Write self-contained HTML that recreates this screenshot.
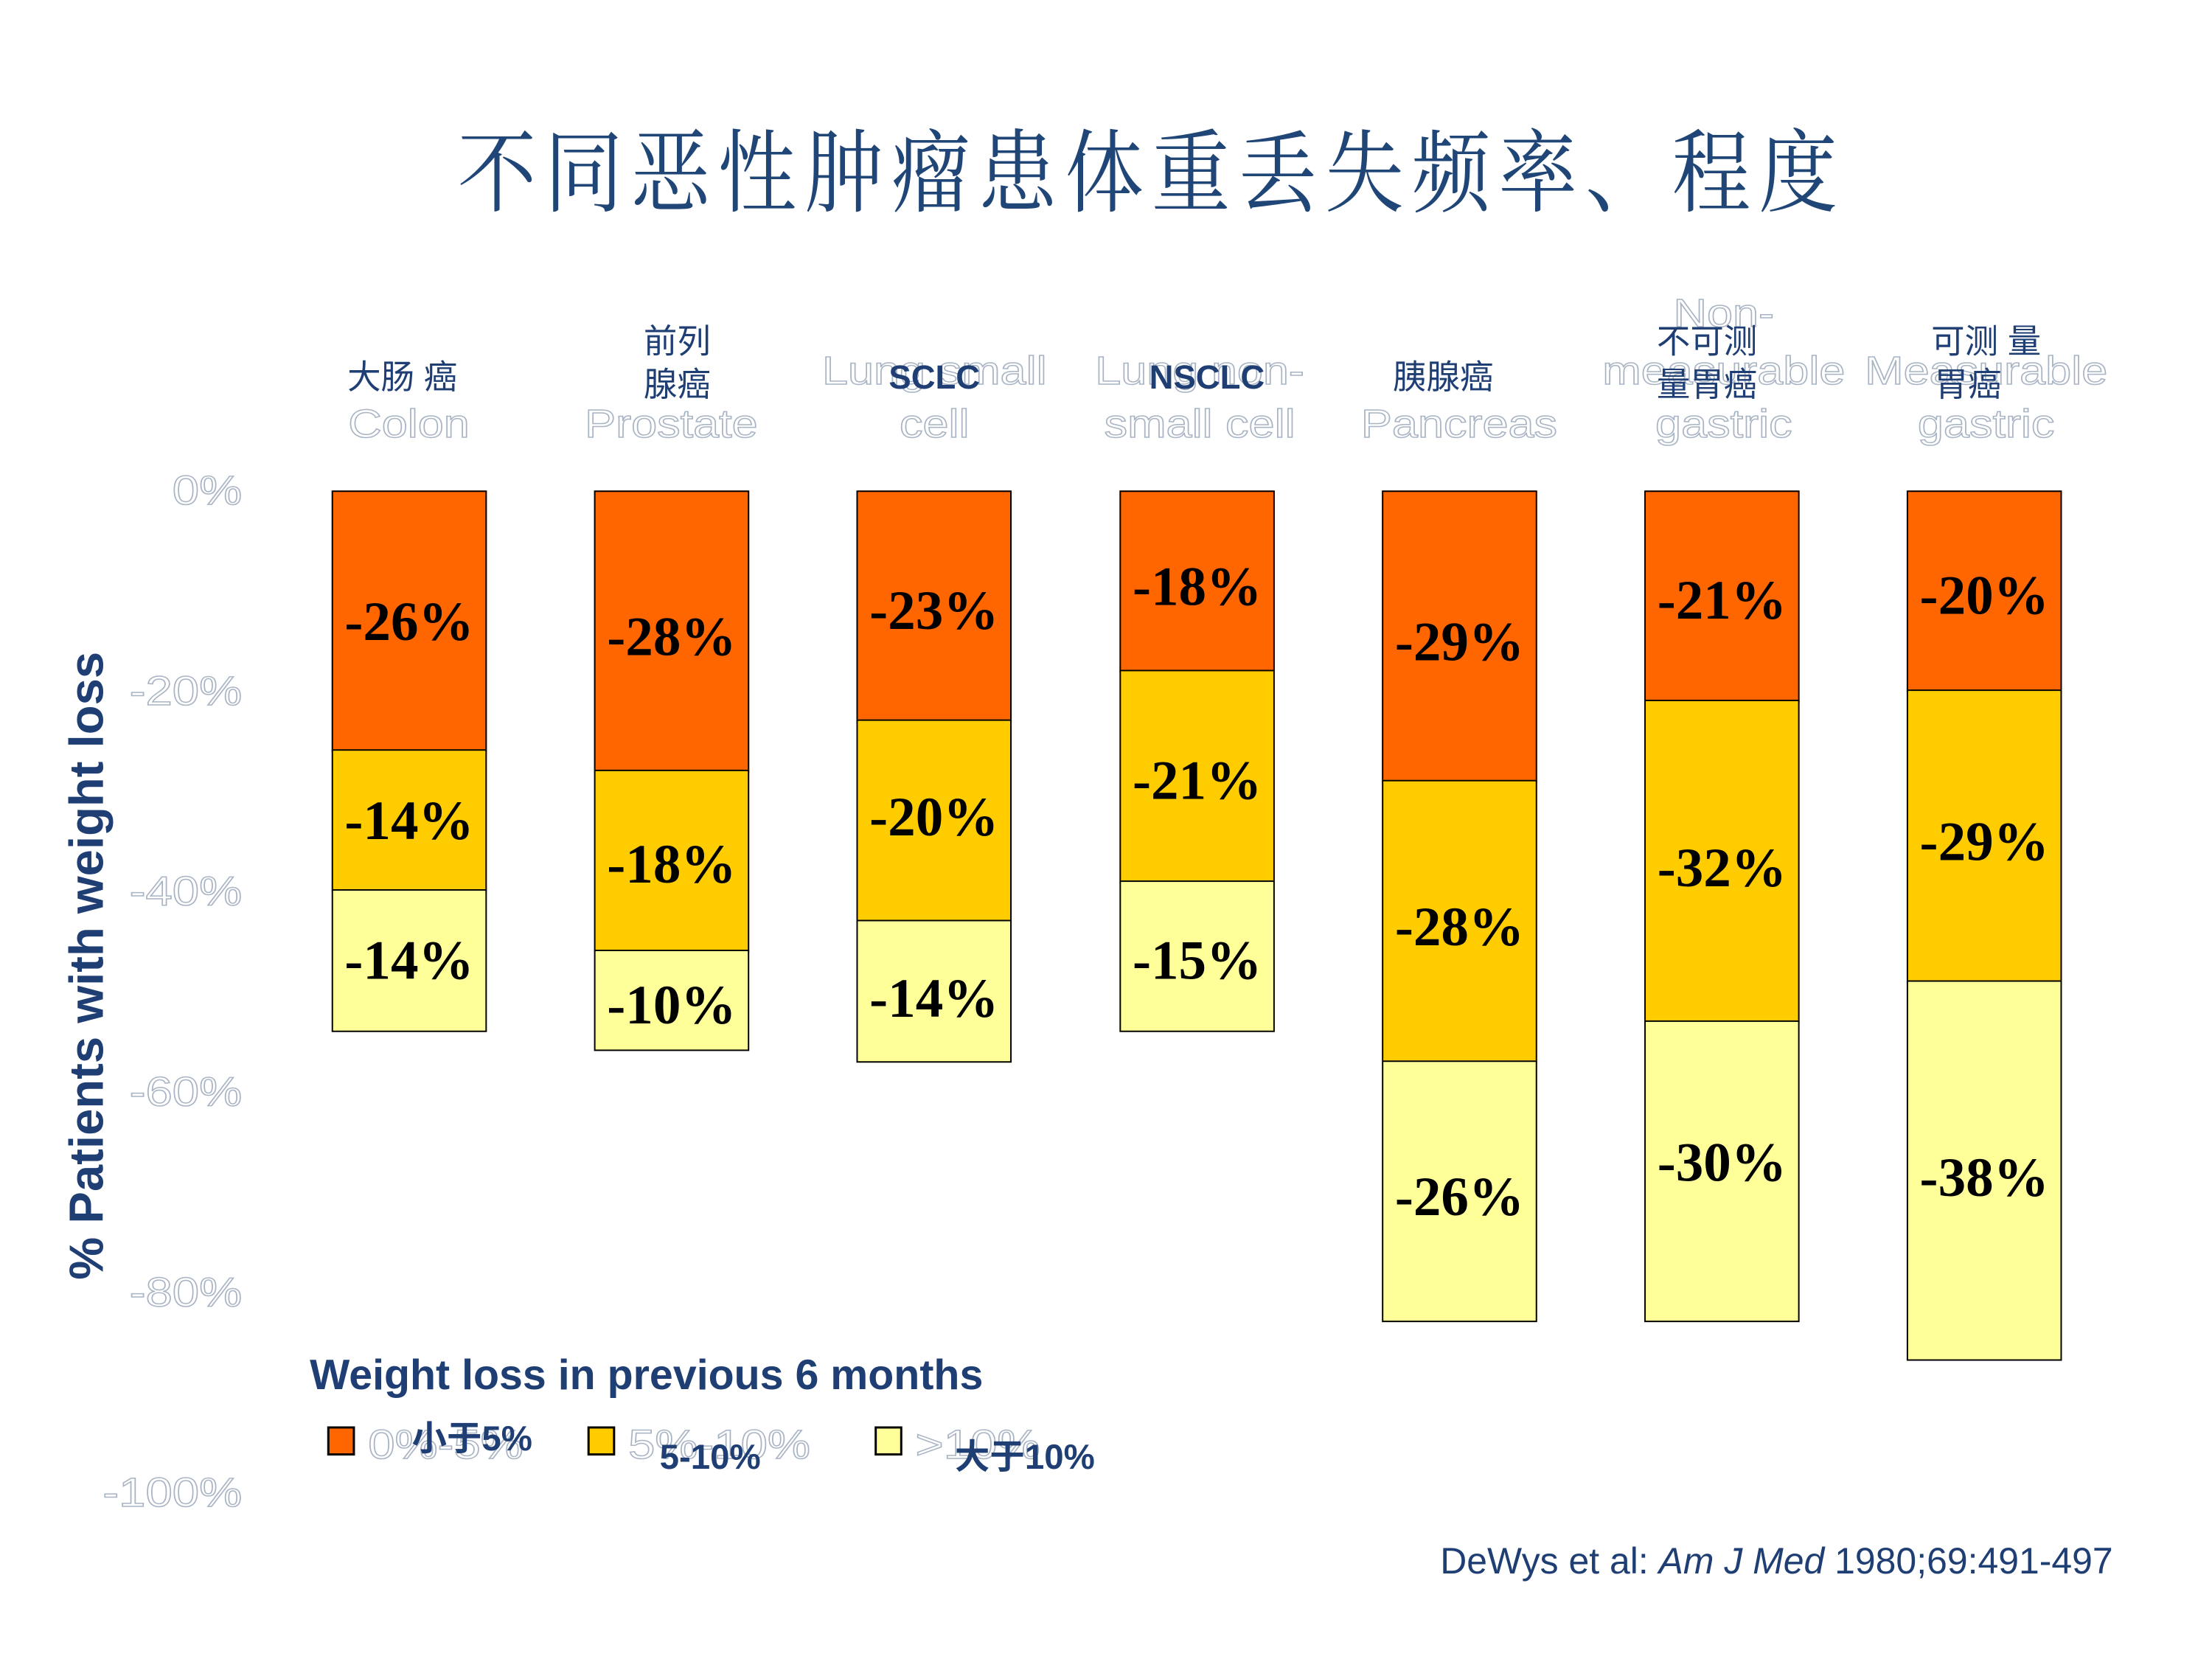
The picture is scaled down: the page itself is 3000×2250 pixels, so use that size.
<!DOCTYPE html>
<html><head><meta charset="utf-8"><style>
html,body{margin:0;padding:0;background:#fff;}
#w{position:relative;width:3000px;height:2250px;overflow:hidden;background:#fff;}
#c{position:absolute;left:0;top:0;width:3035px;height:2276px;transform:scale(0.9885);transform-origin:0 0;font-family:"Liberation Sans","Noto Sans CJK SC",sans-serif;}
.a{position:absolute;white-space:nowrap;transform:translate(-50%,-50%);line-height:1;}
.o{color:#fff;-webkit-text-stroke:1.5px #a8b4c4;font-size:54px;transform:translate(-50%,-50%) scaleX(1.18);}
.cn{color:#1f3f74;font-size:46px;font-family:"Liberation Sans","Noto Sans CJK SC",sans-serif;}
.b{font-weight:bold;color:#1f3f74;font-size:46px;}
.t{color:#fff;-webkit-text-stroke:1.5px #a8b4c4;font-size:56px;transform:translate(-100%,-50%) scaleX(1.18);transform-origin:100% 50%;}
.lo{transform:translate(0,-50%) scaleX(1.18);transform-origin:0 50%;}
.bar{position:absolute;box-sizing:border-box;border:2px solid #000;}
.v{position:absolute;left:0;right:0;text-align:center;font-family:"Liberation Serif",serif;font-weight:bold;font-size:76px;color:#000;transform:translateY(-50%);line-height:1;}
</style></head><body><div id="w"><div id="c">
<div class="a" style="left:1580px;top:228px;transform:translate(-50%,-50%) scaleY(1.15);font-family:'Noto Serif CJK SC',serif;font-size:108px;letter-spacing:11px;color:#1f4677;">不同恶性肿瘤患体重丢失频率、程度</div>

<div class="a t" style="left:332px;top:673px;">0%</div>
<div class="a t" style="left:332px;top:948px;">-20%</div>
<div class="a t" style="left:332px;top:1223px;">-40%</div>
<div class="a t" style="left:332px;top:1498px;">-60%</div>
<div class="a t" style="left:332px;top:1773px;">-80%</div>
<div class="a t" style="left:332px;top:2048px;">-100%</div>

<div class="a" style="left:118px;top:1325px;transform:translate(-50%,-50%) rotate(-90deg);font-weight:bold;font-size:66px;color:#1f3f74;">% Patients with weight loss</div>

<div class="a cn" style="left:552px;top:517px;">大肠 癌</div>
<div class="a o" style="left:561px;top:582px;">Colon</div>
<div class="a cn" style="left:929px;top:468px;">前列</div>
<div class="a cn" style="left:929px;top:527px;">腺癌</div>
<div class="a o" style="left:921px;top:582px;">Prostate</div>
<div class="a o" style="left:1282px;top:509px;">Lung small</div>
<div class="a o" style="left:1282px;top:582px;">cell</div>
<div class="a b" style="left:1282px;top:517px;">SCLC</div>
<div class="a o" style="left:1646px;top:509px;">Lung non-</div>
<div class="a o" style="left:1646px;top:582px;">small cell</div>
<div class="a b" style="left:1656px;top:517px;">NSCLC</div>
<div class="a cn" style="left:1980px;top:517px;">胰腺癌</div>
<div class="a o" style="left:2002px;top:582px;">Pancreas</div>
<div class="a o" style="left:2365px;top:430px;">Non-</div>
<div class="a o" style="left:2365px;top:509px;">measurable</div>
<div class="a o" style="left:2365px;top:582px;">gastric</div>
<div class="a cn" style="left:2342px;top:468px;">不可测</div>
<div class="a cn" style="left:2342px;top:527px;">量胃癌</div>
<div class="a o" style="left:2725px;top:509px;">Measurable</div>
<div class="a o" style="left:2725px;top:582px;">gastric</div>
<div class="a cn" style="left:2725px;top:468px;">可测 量</div>
<div class="a cn" style="left:2700px;top:527px;">胃癌</div>

<div class="bar" style="left:455px;top:673px;width:213px;height:359px;background:#ff6600;"><div class="v" style="top:50%">-26%</div></div>
<div class="bar" style="left:455px;top:1028px;width:213px;height:196px;background:#ffcc00;"><div class="v" style="top:50%">-14%</div></div>
<div class="bar" style="left:455px;top:1220px;width:213px;height:196px;background:#ffff99;"><div class="v" style="top:50%">-14%</div></div>

<div class="bar" style="left:815px;top:673px;width:213px;height:387px;background:#ff6600;"><div class="v" style="top:52%">-28%</div></div>
<div class="bar" style="left:815px;top:1056px;width:213px;height:251px;background:#ffcc00;"><div class="v" style="top:52%">-18%</div></div>
<div class="bar" style="left:815px;top:1303px;width:213px;height:139px;background:#ffff99;"><div class="v" style="top:55%">-10%</div></div>

<div class="bar" style="left:1175px;top:673px;width:213px;height:318px;background:#ff6600;"><div class="v" style="top:52%">-23%</div></div>
<div class="bar" style="left:1175px;top:987px;width:213px;height:279px;background:#ffcc00;"><div class="v" style="top:48%">-20%</div></div>
<div class="bar" style="left:1175px;top:1262px;width:213px;height:196px;background:#ffff99;"><div class="v" style="top:55%">-14%</div></div>

<div class="bar" style="left:1536px;top:673px;width:213px;height:250px;background:#ff6600;"><div class="v" style="top:53%">-18%</div></div>
<div class="bar" style="left:1536px;top:919px;width:213px;height:293px;background:#ffcc00;"><div class="v" style="top:52%">-21%</div></div>
<div class="bar" style="left:1536px;top:1208px;width:213px;height:208px;background:#ffff99;"><div class="v" style="top:53%">-15%</div></div>

<div class="bar" style="left:1896px;top:673px;width:213px;height:401px;background:#ff6600;"><div class="v" style="top:52%">-29%</div></div>
<div class="bar" style="left:1896px;top:1070px;width:213px;height:389px;background:#ffcc00;"><div class="v" style="top:52%">-28%</div></div>
<div class="bar" style="left:1896px;top:1455px;width:213px;height:359px;background:#ffff99;"><div class="v" style="top:52%">-26%</div></div>

<div class="bar" style="left:2256px;top:673px;width:213px;height:291px;background:#ff6600;"><div class="v" style="top:52%">-21%</div></div>
<div class="bar" style="left:2256px;top:960px;width:213px;height:444px;background:#ffcc00;"><div class="v" style="top:52%">-32%</div></div>
<div class="bar" style="left:2256px;top:1400px;width:213px;height:414px;background:#ffff99;"><div class="v" style="top:47%">-30%</div></div>

<div class="bar" style="left:2616px;top:673px;width:213px;height:277px;background:#ff6600;"><div class="v" style="top:52%">-20%</div></div>
<div class="bar" style="left:2616px;top:946px;width:213px;height:403px;background:#ffcc00;"><div class="v" style="top:52%">-29%</div></div>
<div class="bar" style="left:2616px;top:1345px;width:213px;height:522px;background:#ffff99;"><div class="v" style="top:52%">-38%</div></div>

<div class="a" style="left:425px;top:1887px;transform:translate(0,-50%);font-weight:bold;font-size:58px;color:#1f3f74;">Weight loss in previous 6 months</div>
<div style="position:absolute;left:449px;top:1957px;width:38px;height:40px;box-sizing:border-box;border:3px solid #000;background:#ff6600;"></div>
<div style="position:absolute;left:806px;top:1957px;width:38px;height:40px;box-sizing:border-box;border:3px solid #000;background:#ffcc00;"></div>
<div style="position:absolute;left:1200px;top:1957px;width:38px;height:40px;box-sizing:border-box;border:3px solid #000;background:#ffff99;"></div>
<div class="a o lo" style="left:505px;top:1982px;font-size:56px;">0%-5%</div>
<div class="a cn" style="left:565px;top:1975px;transform:translate(0,-50%);font-weight:bold;font-size:48px;">小于5%</div>
<div class="a o lo" style="left:862px;top:1982px;font-size:56px;">5%-10%</div>
<div class="a b" style="left:905px;top:2000px;transform:translate(0,-50%);font-size:48px;">5-10%</div>
<div class="a o lo" style="left:1256px;top:1982px;font-size:56px;">&gt;10%</div>
<div class="a cn" style="left:1310px;top:2000px;transform:translate(0,-50%);font-weight:bold;font-size:48px;">大于10%</div>

<div class="a" style="left:2899px;top:2142px;transform:translate(-100%,-50%);font-size:50.5px;color:#1f3f74;">DeWys et al: <i>Am J Med</i> 1980;69:491-497</div>
</div></div></body></html>
